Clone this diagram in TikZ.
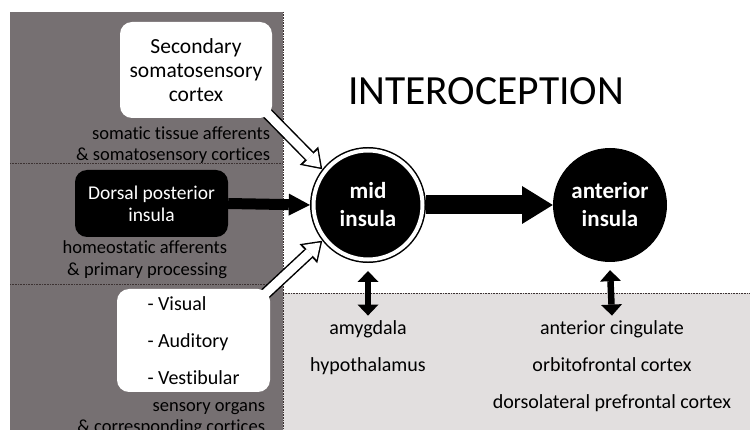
\documentclass[tikz,border=0pt]{standalone}
\usepackage{fontspec}
\setmainfont{Carlito}[Ligatures={NoCommon}]
\usetikzlibrary{arrows.meta, positioning}
\definecolor{darkpanel}{RGB}{118,112,114}
\definecolor{lightpanel}{RGB}{226,223,223}
\definecolor{dotline}{RGB}{60,50,50}
\pgfdeclarelayer{bg}
\pgfdeclarelayer{links}
\pgfsetlayers{bg,links,main}

\begin{document}
\begin{tikzpicture}[
    x=1pt, y=-1pt,
    whitebox/.style={fill=white, rounded corners=12pt, inner sep=0pt},
    blackbox/.style={fill=black, text=white, rounded corners=12pt, inner sep=0pt, align=center, font=\fontsize{19.5}{22}\selectfont},
    lbl/.style={align=right, inner sep=0pt, font=\fontsize{18.5}{21.5}\selectfont},
    area/.style={font=\fontsize{20}{22}\selectfont},
    insula/.style={circle, fill=black, text=white, align=center, inner sep=0pt, font=\bfseries\fontsize{23}{28}\selectfont},
    divider/.style={dotline, densely dotted, line width=0.6pt},
    solid/.style={line width=#1, -{Triangle[line width=0pt, length=1.2*#1+8pt, width=2*#1]}},
    hollowout/.style={line width=12pt, -{Triangle[line width=0pt, length=19pt, width=26pt]}},
    hollowin/.style={white, line width=9pt, shorten >=2.6pt, -{Triangle[line width=0pt, length=14.5pt, width=20pt]}},
    biarrow/.style={line width=6.5pt, {Triangle[line width=0pt, length=11pt, width=21pt]}-{Triangle[line width=0pt, length=11pt, width=21pt]}},
]
    \useasboundingbox (0,0) rectangle (750,430);

    % panels
    \begin{pgfonlayer}{bg}
        \fill[white] (0,0) rectangle (750,430);
        \fill[darkpanel] (10,12) rectangle (283,430);
        \fill[lightpanel] (283,293) rectangle (750,430);
        \draw[divider] (10,163) -- (283,163);
        \draw[divider] (10,284) -- (283,284);
        \draw[divider] (283,12) -- (283,430);
        \draw[divider] (283,293) -- (750,293);
    \end{pgfonlayer}

    \node[font=\fontsize{41.5}{44}\selectfont] (title) at (486,91) {INTEROCEPTION};

    % inputs
    \node[whitebox, align=center, minimum width=152pt, minimum height=96pt, font=\fontsize{21.5}{24}\selectfont] (sec) at (196,70) {Secondary\\somatosensory\\cortex};
    \node[lbl, below left=8pt and 2pt of sec.south east] (somlbl) {somatic tissue afferents\\\& somatosensory cortices};
    \node[blackbox, minimum width=153pt, minimum height=67pt] (dor) at (151.5,203.5) {Dorsal posterior\\insula};
    \node[lbl, below left=3.5pt and 1pt of dor.south east] (homlbl) {homeostatic afferents\\\& primary processing};
    \node[whitebox, align=left, minimum width=153pt, minimum height=103pt, font=\fontsize{20}{37}\selectfont] (vis) at (193.5,340.5) {- Visual\\- Auditory\\- Vestibular};
    \node[lbl, below left=10pt and 5pt of vis.south east] (senlbl) {sensory organs\\\& corresponding cortices};

    % insula
    \node[insula, minimum size=109pt, draw=black, line width=1.5pt, double=white, double distance=4pt, outer sep=3.5pt] (mid) at (368,205) {mid\\insula};
    \node[insula, minimum size=114pt] (ant) at (610,205) {anterior\\insula};

    % targets
    \node[area, anchor=base] (amy) at (368,335) {amygdala};
    \node[area, below=37pt of amy.base, anchor=base] (hyp) {hypothalamus};
    \node[area, anchor=base] (cing) at (612,335) {anterior cingulate};
    \node[area, below=37pt of cing.base, anchor=base] (ofc) {orbitofrontal cortex};
    \node[area, below=37pt of ofc.base, anchor=base] (dlpfc) {dorsolateral prefrontal cortex};

    \begin{pgfonlayer}{links}
        \draw[hollowout] ([shift={(-6pt,6pt)}]sec.south east) -- (mid.142);
        \draw[hollowin] ([shift={(-6pt,6pt)}]sec.south east) -- (mid.142);
        \draw[hollowout] ([shift={(-6pt,-6pt)}]vis.north east) -- (mid.218);
        \draw[hollowin] ([shift={(-6pt,-6pt)}]vis.north east) -- (mid.218);
        \draw[solid=11pt] (dor.east) -- (mid.west);
        \draw[solid=19pt] (mid.east) -- (ant.west);
        \draw[biarrow] ([yshift=-8pt]mid.south) -- ([yshift=2pt]amy.north);
        \draw[biarrow] ([yshift=-8pt]ant.south) -- ([yshift=2pt]cing.north);
    \end{pgfonlayer}
\end{tikzpicture}
\end{document}
